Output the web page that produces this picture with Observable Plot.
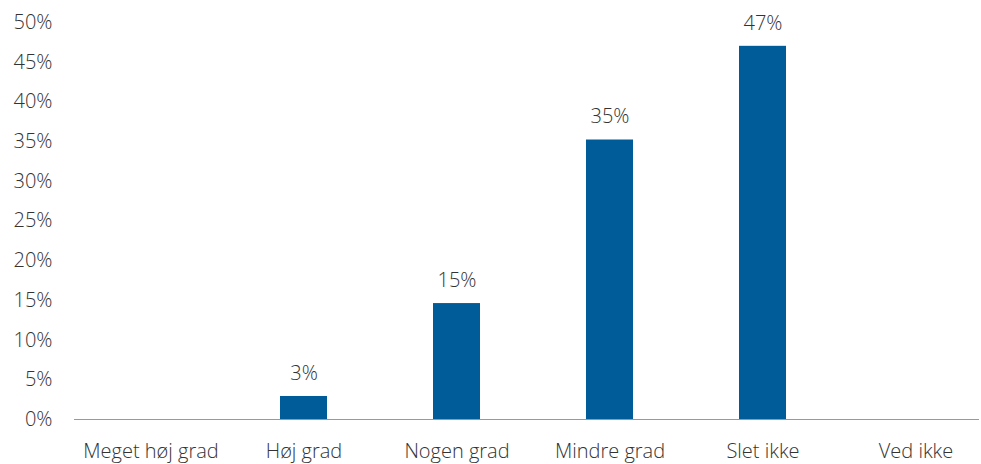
<!DOCTYPE html>
<html>
<head>
<meta charset="utf-8">
<script src="https://cdn.jsdelivr.net/npm/d3@7"></script>
<script src="https://cdn.jsdelivr.net/npm/@observablehq/plot@0.6"></script>
<style>
  html, body { margin: 0; padding: 0; background: #fff; }
  #chart svg { display: block; }
</style>
</head>
<body>
<div id="chart"></div>
<script>
const categories = ["Meget høj grad", "Høj grad", "Nogen grad", "Mindre grad", "Slet ikke", "Ved ikke"];
const values = [0, 2.9, 14.6, 35.2, 47.0, 0];
const yTicks = [0, 5, 10, 15, 20, 25, 30, 35, 40, 45, 50];

const data = categories.map((c, i) => ({category: c, value: values[i]}));
const labelled = data.filter(d => d.value > 0);

const chart = Plot.plot({
  width: 981,
  height: 464,
  marginLeft: 74,
  marginRight: 2,
  marginTop: 22,
  marginBottom: 45,
  style: {fontFamily: "'Open Sans', sans-serif", fontSize: "20px", fontWeight: 300, color: "#333", background: "#fff"},
  x: {domain: categories, range: [72.5, 994.5], paddingInner: 0.69, paddingOuter: 0.345, label: null, tickSize: 0, tickPadding: 24},
  y: {domain: [0, 50], range: [419, 22], ticks: yTicks, tickFormat: d => d + "%", tickSize: 0, tickPadding: 22, label: null},
  marks: [
    Plot.barY(data, {x: "category", y: "value", fill: "#005b99"}),
    Plot.ruleY([0], {stroke: "#999", strokeWidth: 1}),
    Plot.text(labelled, {x: "category", y: "value", text: d => Math.round(d.value) + "%", dy: -23, fill: "#333", fontSize: 20, fontWeight: 300})
  ]
});
document.getElementById("chart").appendChild(chart);
</script>
</body>
</html>
